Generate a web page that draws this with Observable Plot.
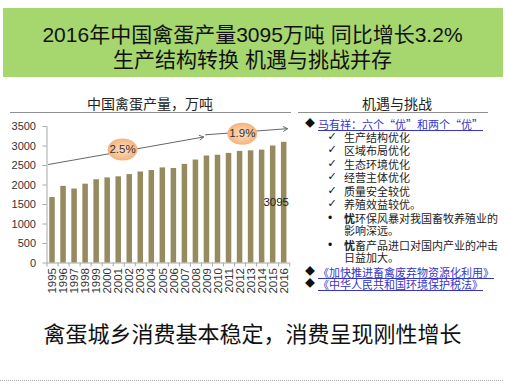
<!DOCTYPE html>
<html><head><meta charset="utf-8">
<script src="https://cdn.jsdelivr.net/npm/d3@7"></script>
<script src="https://cdn.jsdelivr.net/npm/@observablehq/plot@0.6"></script>
<style>
html,body{margin:0;padding:0}
body{width:505px;height:389px;position:relative;background:#fff;overflow:hidden;font-family:"Liberation Sans","Noto Sans CJK SC",sans-serif;color:#111}
.banner{position:absolute;left:3px;top:8px;width:500px;height:69px;background:#a6d66e}
.tl{position:absolute;left:0;width:100%;text-align:center;font-size:21px;line-height:24px;white-space:nowrap;color:#111}
.sec{position:absolute;font-size:14px;line-height:16px;white-space:nowrap;color:#222;transform:translateX(-50%)}
.hr{position:absolute;height:0;border-top:1.5px solid #8f8f8f}
.ln{position:absolute;font-size:11px;line-height:12px;height:12px;white-space:nowrap;color:#222;font-family:"Noto Sans CJK SC",sans-serif}
.link{color:#3535c8;text-decoration:underline}
.mk{position:absolute;font-size:10px;line-height:12px;height:12px;transform:translateX(-50%);color:#111}
#chart{position:absolute;left:0;top:113px}
.bottom{position:absolute;left:0;width:100%;text-align:center;font-size:22px;line-height:26px;top:322px;color:#111;white-space:nowrap}
.dots{position:absolute;left:0;width:503px;top:380px;border-top:1px dotted #aaa}
</style></head>
<body>
<div class="banner"></div>
<div id="titles"></div>
<div id="chart"></div>
<div id="panel"></div>
<div class="bottom" id="bottom"></div>
<div class="dots"></div>
<script>
// ---- data ----
const titleLines = ["2016年中国禽蛋产量3095万吨 同比增长3.2%", "生产结构转换 机遇与挑战并存"];
const chartTitle = "中国禽蛋产量，万吨";
const panelTitle = "机遇与挑战";
const bottomText = "禽蛋城乡消费基本稳定，消费呈现刚性增长";
const years = [1995,1996,1997,1998,1999,2000,2001,2002,2003,2004,2005,2006,2007,2008,2009,2010,2011,2012,2013,2014,2015,2016];
const production = [1677,1965,1897,2021,2135,2182,2210,2266,2333,2371,2438,2424,2529,2640,2743,2763,2811,2861,2876,2894,2999,3095];
const yTicks = [0,500,1000,1500,2000,2500,3000,3500];
// growth-rate annotations (trend arrows in year / value units)
const trendX1 = [1994.64, 2008.87];
const trendY1 = [2526, 3287];
const trendX2 = [2008.7, 2016.3];
const trendY2 = [3231, 3444];
const growthLabels = ["2.5%", "1.9%"];
const growthX = [2001.35, 2012.2];
const growthY = [2910, 3313];
// right panel
const panelItems = [
  {kind:"diamond", text:"马有祥：六个“优”和两个“优”", link:true},
  {kind:"check", text:"生产结构优化"},
  {kind:"check", text:"区域布局优化"},
  {kind:"check", text:"生态环境优化"},
  {kind:"check", text:"经营主体优化"},
  {kind:"check", text:"质量安全较优"},
  {kind:"check", text:"养殖效益较优。"},
  {kind:"bullet", bold:"忧", text:"环保风暴对我国畜牧养殖业的", cont:"影响深远。"},
  {kind:"bullet", bold:"忧", text:"畜产品进口对国内产业的冲击", cont:"日益加大。"},
  {kind:"diamond", text:"《加快推进畜禽废弃物资源化利用》", link:true},
  {kind:"diamond", text:"《中华人民共和国环境保护税法》", link:true}
];

// ---- static texts ----
const titles = document.getElementById("titles");
titleLines.forEach((t,i)=>{
  const d=document.createElement("div"); d.className="tl"; d.textContent=t;
  d.style.top=(23+i*25)+"px"; titles.appendChild(d);
});
function add(parent, cls, text, css){const d=document.createElement("div");d.className=cls;if(text!=null)d.textContent=text;Object.assign(d.style,css);parent.appendChild(d);return d;}
add(titles,"sec",chartTitle,{left:"150px",top:"95px",fontFamily:"'Noto Sans CJK SC',sans-serif"});
add(titles,"sec",panelTitle,{left:"397px",top:"95px",fontFamily:"'Noto Sans CJK SC',sans-serif"});
add(titles,"hr",null,{left:"10px",width:"281px",top:"112px"});
add(titles,"hr",null,{left:"298px",width:"190px",top:"112px"});
document.getElementById("bottom").textContent = bottomText;

const panel=document.getElementById("panel");
let y=124;
panelItems.forEach(it=>{
  if(it.kind==="diamond"){
    add(panel,"mk","◆",{left:"310px",top:(y-6)+"px"});
    const s=add(panel,"ln",null,{left:"318px",top:(y-6)+"px"});
    const sp=document.createElement("span");sp.className=it.link?"link":"";sp.textContent=it.text;s.appendChild(sp);
    y+=12.5;
  } else if(it.kind==="check"){
    add(panel,"mk","✓",{left:"332px",top:(y-6)+"px",fontSize:"11px",fontFamily:"'DejaVu Sans'"});
    add(panel,"ln",it.text,{left:"344px",top:(y-6)+"px"});
    y+=13.5;
  } else {
    add(panel,"mk","•",{left:"330px",top:(y-6)+"px",fontSize:"12px"});
    const s=add(panel,"ln",null,{left:"344px",top:(y-6)+"px"});
    const b=document.createElement("b");b.textContent=it.bold;s.appendChild(b);
    s.appendChild(document.createTextNode(it.text));
    add(panel,"ln",it.cont,{left:"344px",top:(y+12-6)+"px"});
    y+=27;
  }
});

// ---- chart ----
const data = years.map((yr,i)=>({year:yr, value:production[i]}));
const trends = trendX1.map((x,i)=>({x1:x,y1:trendY1[i],x2:trendX2[i],y2:trendY2[i]}));
const labels = growthLabels.map((t,i)=>({text:t,x:growthX[i],y:growthY[i]}));
const bounds = years.map(v=>v-0.5).concat([years[years.length-1]+0.5]);
const last = data[data.length-1];

const plot = Plot.plot({
  width: 295, height: 190,
  marginLeft: 46.5, marginRight: 5.8, marginTop: 13, marginBottom: 40.5,
  style: {fontFamily:"'Liberation Sans', Arial, sans-serif", fontSize:"11px", background:"transparent", overflow:"visible"},
  x: {type:"linear", domain:[bounds[0], bounds[bounds.length-1]]},
  y: {domain:[0,3500]},
  marks: [
    Plot.ruleX([bounds[0]], {y1:0, y2:3500, stroke:"#a8a8a8"}),
    Plot.ruleY([0], {x1:bounds[0], x2:bounds[bounds.length-1], stroke:"#a8a8a8"}),
    Plot.axisY({ticks:yTicks, tickSize:4, tickPadding:7, tickFormat:d=>String(d), stroke:"#a8a8a8", fill:"#333", fontSize:11, label:null}),
    Plot.axisX({ticks:bounds, tickSize:4, tickFormat:()=>"", stroke:"#a8a8a8", label:null}),
    Plot.axisX({ticks:years, tickSize:0, tickRotate:-90, tickPadding:5, tickFormat:d=>String(d), fill:"#333", fontSize:11.5, label:null}),
    Plot.rectY(data, {x1:d=>d.year-0.25, x2:d=>d.year+0.25, y:"value", fill:"#958b5e"}),
    Plot.text([last], {x:"year", y:d=>d.value/2, text:d=>String(d.value), dx:-8, fontSize:11.5, fill:"#222"}),
    Plot.arrow(trends, {x1:"x1", y1:"y1", x2:"x2", y2:"y2", stroke:"#666", strokeWidth:1, headLength:7}),
    Plot.dot(labels, {x:"x", y:"y", r:11, fill:"#f8c697", stroke:"none"}),
    Plot.text(labels, {x:"x", y:"y", text:"text", fontSize:11.5, fill:"#333"})
  ]
});
document.getElementById("chart").appendChild(plot);

// ellipse-shaped, softly shaded label backgrounds
const svg = d3.select(plot);
const defs = svg.insert("defs", ":first-child");
const g = defs.append("radialGradient").attr("id","eg");
g.append("stop").attr("offset","0%").attr("stop-color","#fde2c6");
g.append("stop").attr("offset","100%").attr("stop-color","#f6b37a");
svg.selectAll("circle").each(function(){
  const c = d3.select(this);
  const cx = c.attr("cx"), cy = c.attr("cy");
  if (cx != null && cy != null) {
    c.attr("transform", `translate(${cx},${cy}) scale(1.36,1) translate(${-cx},${-cy})`);
  } else {
    c.attr("transform", (c.attr("transform")||"") + " scale(1.36,1)");
  }
  c.attr("fill","url(#eg)");
});
</script>
</body></html>
